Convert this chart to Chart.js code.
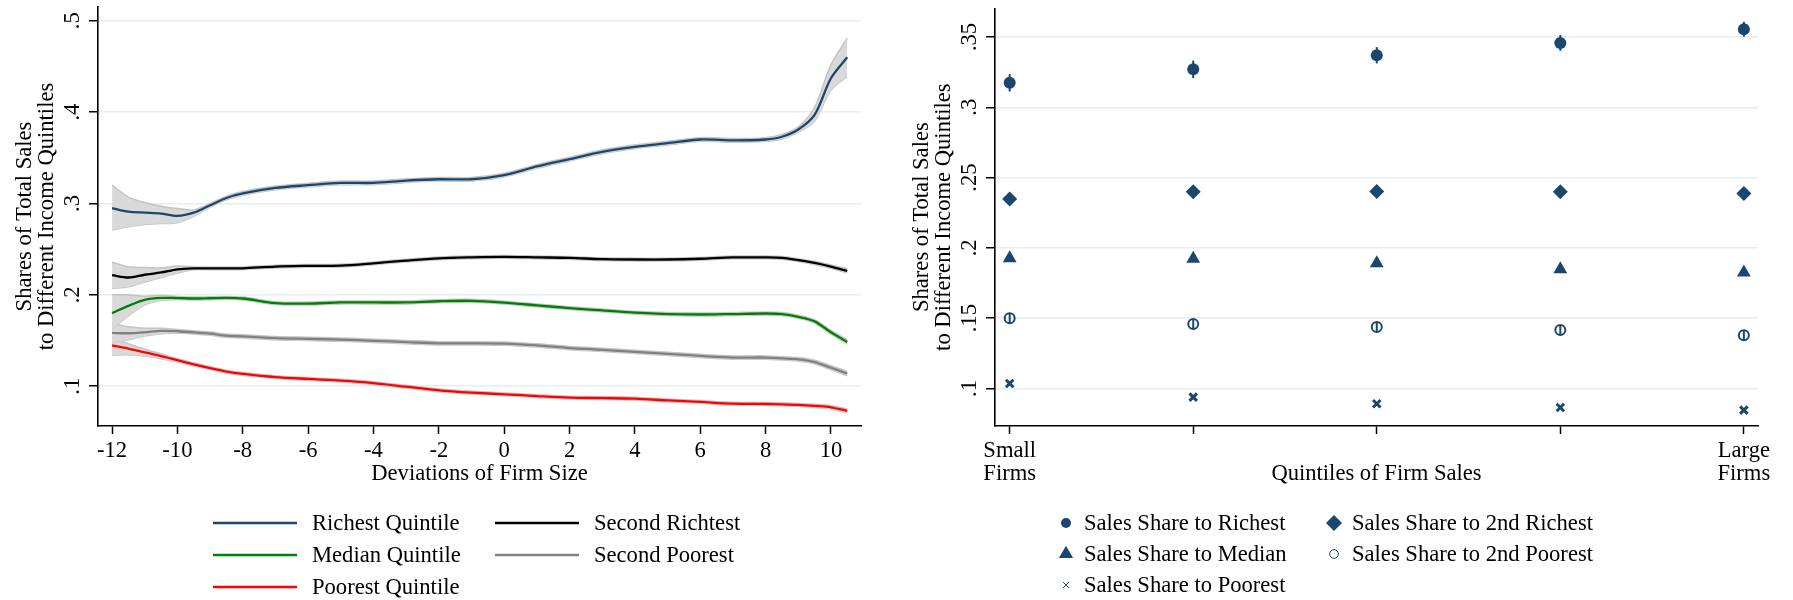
<!DOCTYPE html>
<html>
<head>
<meta charset="utf-8">
<script src="https://cdn.jsdelivr.net/npm/chart.js@4.4.0/dist/chart.umd.min.js"></script>
<style>
  html, body { margin: 0; padding: 0; background: #fff; }
  #wrap { position: relative; width: 1793px; height: 600px; overflow: hidden; }
  canvas { position: absolute; top: 0; }
  #leftChart { left: 0; }
  #rightChart { left: 880px; }
</style>
</head>
<body>
<div id="wrap">
  <canvas id="leftChart" width="880" height="600"></canvas>
  <canvas id="rightChart" width="913" height="600"></canvas>
</div>
<script>
// ---- left panel: shares by deviation of firm size ----
const firmSizeDev = [-12, -11.5, -11, -10.5, -10, -9.5, -9, -8.5, -8, -7, -6, -5, -4, -3, -2, -1, 0, 1, 2, 3, 4, 5, 6, 7, 8, 8.5, 9, 9.5, 10, 10.5];

const richest   = [.295, .291, .290, .289, .2865, .290, .298, .306, .311, .317, .320, .3225, .3225, .325, .3265, .3265, .331, .3405, .3485, .3565, .362, .366, .370, .369, .370, .373, .381, .397, .437, .460];
const richestHi = [.320, .307, .301, .297, .2945, .293, .300, .308, .313, .319, .322, .3245, .3245, .327, .3285, .3285, .333, .3425, .3505, .3585, .364, .368, .372, .371, .372, .3755, .384, .405, .452, .481];
const richestLo = [.271, .2745, .277, .278, .279, .286, .296, .304, .309, .315, .318, .3205, .3205, .323, .3245, .3245, .329, .3385, .3465, .3545, .360, .364, .368, .367, .368, .3705, .378, .390, .424, .439];

const secondRichest   = [.2216, .219, .222, .2245, .228, .229, .229, .229, .229, .231, .2317, .232, .2345, .2375, .240, .241, .2415, .241, .2405, .239, .2387, .2387, .2395, .241, .241, .2405, .238, .235, .231, .2262];
const secondRichestHi = [.236, .2307, .230, .2295, .2315, .2305, .2305, .2305, .2305, .2325, .2332, .2335, .236, .239, .2415, .2425, .243, .2425, .242, .2405, .2402, .2402, .241, .2425, .2425, .242, .2395, .2367, .2328, .2285];
const secondRichestLo = [.207, .2088, .214, .219, .224, .2275, .2275, .2275, .2275, .2295, .2302, .2305, .233, .236, .2385, .2395, .240, .2395, .239, .2375, .2372, .2372, .238, .2395, .2395, .239, .2365, .2333, .2292, .2239];

const median   = [.180, .188, .1945, .1967, .1965, .196, .1963, .1967, .196, .191, .1905, .1917, .1917, .1917, .193, .1935, .1915, .1885, .1855, .183, .1805, .179, .1785, .179, .1796, .179, .176, .171, .159, .1485];
const medianHi = [.200, .200, .1985, .1995, .1982, .1976, .1979, .1983, .1976, .1926, .1921, .1933, .1933, .1933, .1946, .1951, .1931, .1901, .1871, .1846, .1821, .1806, .1801, .1806, .1812, .1806, .1777, .1728, .161, .151];
const medianLo = [.163, .177, .189, .194, .1948, .1944, .1947, .1951, .1944, .1894, .1889, .1901, .1901, .1901, .1914, .1919, .1899, .1869, .1839, .1814, .1789, .1774, .1769, .1774, .178, .1774, .1743, .1692, .157, .146];

const secondPoorest   = [.1584, .158, .159, .1606, .1602, .159, .1575, .1553, .1545, .1527, .1518, .151, .1497, .1483, .147, .147, .1467, .1448, .1418, .1398, .1376, .1354, .1332, .1314, .1314, .1305, .1295, .1265, .1202, .1139];
const secondPoorestHi = [.1687, .165, .1635, .1635, .162, .1608, .1593, .1571, .1563, .1545, .1536, .1528, .1515, .1501, .1488, .1488, .1485, .1466, .1436, .1416, .1394, .1372, .135, .1332, .1332, .1323, .1314, .1285, .1224, .1163];
const secondPoorestLo = [.1485, .151, .155, .1575, .1584, .1572, .1557, .1535, .1527, .1509, .150, .1492, .1479, .1465, .1452, .1452, .1449, .143, .140, .138, .1358, .1336, .1314, .1296, .1296, .1287, .1276, .1245, .118, .1115];

const poorest   = [.1446, .1412, .137, .133, .1285, .124, .1198, .116, .1135, .110, .108, .1062, .1035, .0995, .0955, .093, .0912, .0892, .0875, .087, .0864, .0845, .0828, .081, .0806, .0802, .0796, .0785, .077, .073];
const poorestHi = [.1535, .1465, .1405, .1355, .1302, .1256, .1214, .1176, .1151, .1115, .1095, .1077, .105, .101, .097, .0945, .0927, .0907, .089, .0885, .0879, .086, .0843, .0825, .0821, .0817, .0812, .0802, .0788, .0752];
const poorestLo = [.134, .1345, .133, .130, .1268, .1224, .1182, .1144, .1119, .1085, .1065, .1047, .102, .098, .094, .0915, .0897, .0877, .086, .0855, .0849, .083, .0813, .0795, .0791, .0787, .078, .0768, .0752, .0708];

const leftXTicks = [-12, -10, -8, -6, -4, -2, 0, 2, 4, 6, 8, 10];
const leftYTicks = [.1, .2, .3, .4, .5];
const leftYLabels = ['.1', '.2', '.3', '.4', '.5'];
const leftLabels = ['Richest Quintile', 'Second Richtest', 'Median Quintile', 'Second Poorest', 'Poorest Quintile'];

// ---- right panel: shares by quintile of firm sales ----
const salesQuintile = [1, 2, 3, 4, 5];
const salesQuintileLabels = [['Small', 'Firms'], '', '', '', ['Large', 'Firms']];
const shareRichest = [.3174, .327, .337, .3458, .3555];
const shareRichestErr = [.0062, .0062, .0058, .0056, .0053];
const share2ndRichest = [.2347, .2399, .2401, .240, .2387];
const shareMedian = [.1926, .1922, .1891, .1848, .1825];
const share2ndPoorest = [.150, .1458, .1437, .1416, .1378];
const share2ndPoorestErr = [.0034, .0034, .0034, .0034, .0034];
const sharePoorest = [.1035, .0938, .0891, .0865, .0846];
const rightYTicks = [.1, .15, .2, .25, .3, .35];
const rightYLabels = ['.1', '.15', '.2', '.25', '.3', '.35'];
const rightLabels = ['Sales Share to Richest', 'Sales Share to 2nd Richest', 'Sales Share to Median', 'Sales Share to 2nd Poorest', 'Sales Share to Poorest'];

const NAVY = '#1a476f';
const SERIF = '"Liberation Serif", "Times New Roman", serif';
const FONT = '22.6px ' + SERIF;
const GRID = '#e7eef2';
const BAND = '#d9d9d9';
const BAND_EDGE = '#c4c4c4';

Chart.defaults.font.family = SERIF;
Chart.defaults.color = '#000';
Chart.defaults.animation = false;

const pts = (xs, ys) => xs.map((x, i) => ({ x: x, y: ys[i] }));

// draws Stata-like tick labels, axis titles and legend
const stataDecor = {
    id: 'stataDecor',
    afterDraw(chart, args, opts) {
        const ctx = chart.ctx;
        const xs = chart.scales.x, ys = chart.scales.y;
        const area = chart.chartArea;
        ctx.save();
        ctx.fillStyle = '#000';
        ctx.font = FONT;

        // y tick labels, rotated
        opts.yTicks.forEach((v, i) => {
            ctx.save();
            ctx.translate(area.left - 19.5, ys.getPixelForValue(v));
            ctx.rotate(-Math.PI / 2);
            ctx.textAlign = 'center';
            ctx.textBaseline = 'alphabetic';
            ctx.fillText(opts.yLabels[i], 0, 0);
            ctx.restore();
        });

        // x tick labels
        ctx.textAlign = 'center';
        ctx.textBaseline = 'alphabetic';
        opts.xTicks.forEach((v, i) => {
            const lab = opts.xLabels[i];
            const lines = Array.isArray(lab) ? lab : [lab];
            lines.forEach((t, k) => ctx.fillText(t, xs.getPixelForValue(v), area.bottom + 31 + k * 23));
        });

        // x title
        ctx.fillText(opts.xTitle, (area.left + area.right) / 2, 480);

        // y title, two rotated lines
        ctx.save();
        ctx.translate(area.left, (area.top + area.bottom) / 2);
        ctx.rotate(-Math.PI / 2);
        ctx.fillText(opts.yTitle[0], 0, -67);
        ctx.fillText(opts.yTitle[1], 0, -45);
        ctx.restore();

        // legend, two columns
        ctx.textAlign = 'left';
        ctx.textBaseline = 'middle';
        const lg = opts.legend;
        lg.items.forEach((it, i) => {
            const col = i % 2, row = Math.floor(i / 2);
            const x0 = lg.colX[col], y0 = lg.rowY[row];
            if (it.line) {
                ctx.strokeStyle = it.color;
                ctx.lineWidth = 2.4;
                ctx.beginPath();
                ctx.moveTo(x0, y0);
                ctx.lineTo(x0 + lg.sample, y0);
                ctx.stroke();
            } else {
                ctx.fillStyle = it.fill;
                ctx.strokeStyle = it.color;
                Chart.helpers.drawPoint(ctx, { pointStyle: it.style, radius: it.radius, rotation: 0, borderWidth: it.bw }, x0, y0);
            }
            ctx.fillStyle = '#000';
            ctx.fillText(it.label, x0 + lg.textGap, y0 + 1);
        });
        ctx.restore();
    }
};

// vertical confidence bars on the right panel
const errorBars = {
    id: 'errorBars',
    afterDatasetsDraw(chart, args, opts) {
        const ctx = chart.ctx;
        const xs = chart.scales.x, ys = chart.scales.y;
        ctx.save();
        ctx.strokeStyle = NAVY;
        ctx.lineWidth = 2;
        opts.sets.forEach(s => {
            salesQuintile.forEach((q, i) => {
                const px = xs.getPixelForValue(q);
                ctx.beginPath();
                ctx.moveTo(px, ys.getPixelForValue(s.vals[i] - s.err[i]));
                ctx.lineTo(px, ys.getPixelForValue(s.vals[i] + s.err[i]));
                ctx.stroke();
            });
        });
        ctx.restore();
    }
};

function bandSets(hi, lo) {
    return [
        { data: pts(firmSizeDev, hi), borderColor: BAND_EDGE, borderWidth: 1.5, backgroundColor: BAND, fill: '+1', pointRadius: 0, tension: 0.3, order: 1 },
        { data: pts(firmSizeDev, lo), borderColor: BAND_EDGE, borderWidth: 1.5, backgroundColor: BAND, fill: false, pointRadius: 0, tension: 0.3, order: 1 }
    ];
}
function lineSet(label, ys, color) {
    return { label: label, data: pts(firmSizeDev, ys), borderColor: color, borderWidth: 2.3, fill: false, pointRadius: 0, tension: 0.3, order: 0 };
}

const leftColors = [NAVY, '#000000', '#008000', '#808080', '#ff0000'];

function initLeft() {
    const ctx = document.getElementById('leftChart').getContext('2d');
    new Chart(ctx, {
        type: 'line',
        data: {
            datasets: [
                ...bandSets(richestHi, richestLo),
                ...bandSets(secondRichestHi, secondRichestLo),
                ...bandSets(medianHi, medianLo),
                ...bandSets(secondPoorestHi, secondPoorestLo),
                ...bandSets(poorestHi, poorestLo),
                lineSet(leftLabels[0], richest, leftColors[0]),
                lineSet(leftLabels[1], secondRichest, leftColors[1]),
                lineSet(leftLabels[2], median, leftColors[2]),
                lineSet(leftLabels[3], secondPoorest, leftColors[3]),
                lineSet(leftLabels[4], poorest, leftColors[4])
            ]
        },
        options: {
            responsive: false,
            devicePixelRatio: 1,
            layout: { padding: { left: 0, right: 19, top: 7, bottom: 0 } },
            plugins: {
                legend: { display: false },
                tooltip: { enabled: false },
                stataDecor: {
                    yTicks: leftYTicks, yLabels: leftYLabels,
                    xTicks: leftXTicks, xLabels: leftXTicks.map(String),
                    xTitle: 'Deviations of Firm Size',
                    yTitle: ['Shares of Total Sales', 'to Different Income Quintiles'],
                    legend: {
                        items: leftLabels.map((l, i) => ({ label: l, line: true, color: leftColors[i] })),
                        colX: [213, 495], rowY: [523, 555, 587], sample: 84, textGap: 99
                    }
                }
            },
            scales: {
                x: {
                    type: 'linear', min: -12.43, max: 10.92,
                    afterFit: s => { s.height = 174; },
                    afterBuildTicks: s => { s.ticks = leftXTicks.map(v => ({ value: v })); },
                    ticks: { display: false },
                    grid: { drawOnChartArea: false, tickLength: 8, tickColor: '#000', tickWidth: 1.5 },
                    border: { color: '#000', width: 1.6 }
                },
                y: {
                    min: .0565, max: .515,
                    afterFit: s => { s.width = 98; },
                    afterBuildTicks: s => { s.ticks = leftYTicks.map(v => ({ value: v })); },
                    ticks: { display: false },
                    grid: { color: GRID, lineWidth: 1.5, tickLength: 9, tickColor: '#000', tickWidth: 1.5 },
                    border: { color: '#000', width: 1.6 }
                }
            }
        },
        plugins: [stataDecor]
    });
}

function initRight() {
    const ctx = document.getElementById('rightChart').getContext('2d');
    const mk = (label, ys, style, radius, fill, bw) => ({
        label: label, data: pts(salesQuintile, ys), showLine: false,
        pointStyle: style, pointRadius: radius, pointBackgroundColor: fill,
        pointBorderColor: NAVY, pointBorderWidth: bw
    });
    new Chart(ctx, {
        type: 'scatter',
        data: {
            datasets: [
                mk(rightLabels[0], shareRichest, 'circle', 6, NAVY, 0),
                mk(rightLabels[1], share2ndRichest, 'rectRot', 7.5, NAVY, 0),
                mk(rightLabels[2], shareMedian, 'triangle', 8, NAVY, 0),
                mk(rightLabels[3], share2ndPoorest, 'circle', 5, 'rgba(0,0,0,0)', 2),
                mk(rightLabels[4], sharePoorest, 'crossRot', 5.3, NAVY, 3)
            ]
        },
        options: {
            responsive: false,
            devicePixelRatio: 1,
            layout: { padding: { left: 0, right: 35, top: 7, bottom: 0 } },
            plugins: {
                legend: { display: false },
                tooltip: { enabled: false },
                errorBars: {
                    sets: [
                        { vals: shareRichest, err: shareRichestErr },
                        { vals: share2ndPoorest, err: share2ndPoorestErr }
                    ]
                },
                stataDecor: {
                    yTicks: rightYTicks, yLabels: rightYLabels,
                    xTicks: salesQuintile, xLabels: salesQuintileLabels,
                    xTitle: 'Quintiles of Firm Sales',
                    yTitle: ['Shares of Total Sales', 'to Different Income Quintiles'],
                    legend: {
                        items: [
                            { label: rightLabels[0], style: 'circle', radius: 5, fill: NAVY, color: NAVY, bw: 0 },
                            { label: rightLabels[1], style: 'rectRot', radius: 8, fill: NAVY, color: NAVY, bw: 0 },
                            { label: rightLabels[2], style: 'triangle', radius: 8.2, fill: NAVY, color: NAVY, bw: 0 },
                            { label: rightLabels[3], style: 'circle', radius: 4.3, fill: 'rgba(0,0,0,0)', color: NAVY, bw: 2 },
                            { label: rightLabels[4], style: 'crossRot', radius: 4.2, fill: NAVY, color: NAVY, bw: 2.4 }
                        ],
                        colX: [186, 454], rowY: [523, 554, 585], textGap: 18
                    }
                }
            },
            scales: {
                x: {
                    type: 'linear', min: 0.92, max: 5.077,
                    afterFit: s => { s.height = 174; },
                    afterBuildTicks: s => { s.ticks = salesQuintile.map(v => ({ value: v })); },
                    ticks: { display: false },
                    grid: { drawOnChartArea: false, tickLength: 8, tickColor: '#000', tickWidth: 1.5 },
                    border: { color: '#000', width: 1.6 }
                },
                y: {
                    min: .0733, max: .3704,
                    afterFit: s => { s.width = 115; },
                    afterBuildTicks: s => { s.ticks = rightYTicks.map(v => ({ value: v })); },
                    ticks: { display: false },
                    grid: { color: GRID, lineWidth: 1.5, tickLength: 9, tickColor: '#000', tickWidth: 1.5 },
                    border: { color: '#000', width: 1.6 }
                }
            }
        },
        plugins: [stataDecor, errorBars]
    });
}

document.addEventListener('DOMContentLoaded', () => {
    initLeft();
    initRight();
});
</script>
</body>
</html>
